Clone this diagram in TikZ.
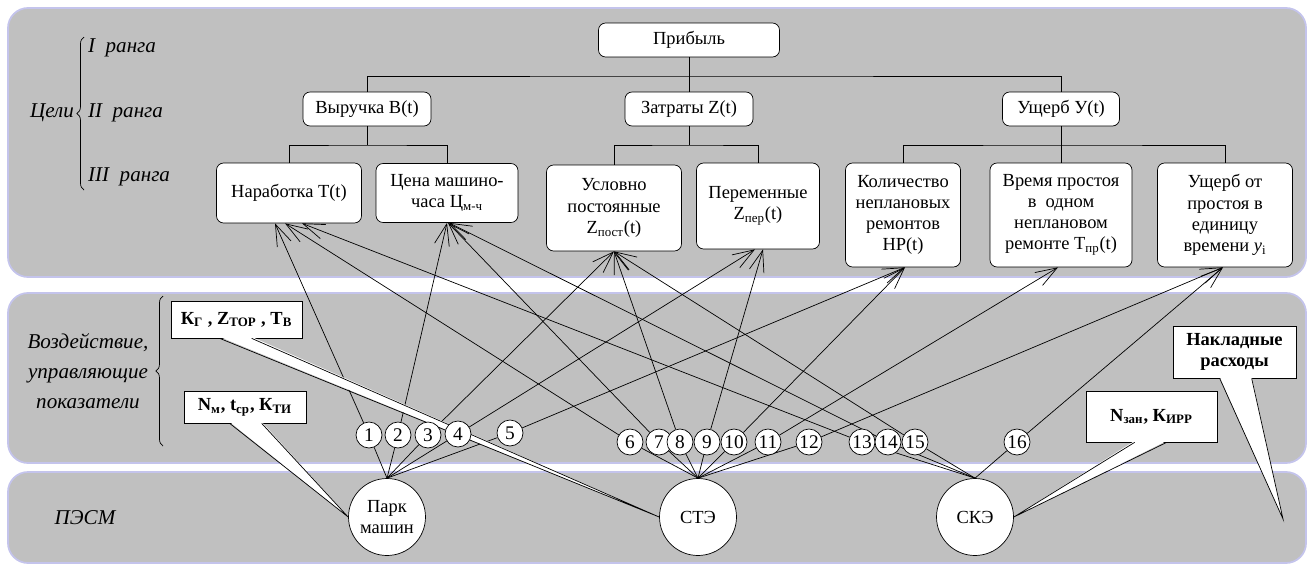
\documentclass[tikz,border=0pt]{standalone}
\usepackage{fontspec}
\setmainfont{Liberation Serif}
\usetikzlibrary{arrows.meta,calc,decorations.pathreplacing}
\definecolor{panelgrey}{RGB}{192,192,192}
\definecolor{panelrim}{RGB}{196,196,236}
\pgfdeclarelayer{back}
\pgfdeclarelayer{mid}
\pgfsetlayers{back,mid,main}
\newcommand\calltail[3]{%
  \fill[white] ($(#1.south west)+(#2,-1.5)$) -- (#3) -- ($(#1.south west)+(#2+32,-1.5)$) -- cycle;
  \draw ($(#1.south west)+(#2,0)$) -- (#3) -- ($(#1.south west)+(#2+32,0)$);}

\begin{document}
\begin{tikzpicture}
    [x=0.02cm, y=-0.02cm, line width=0.55pt, >={Straight Barb[length=4.3mm,width=3mm]},
      panel/.style={draw=panelrim, line width=1pt, fill=panelgrey, rounded corners=0.4cm},
      goal/.style={draw, fill=white, rounded corners=4pt, align=center, inner sep=1pt,
        font=\fontsize{10.5}{12}\selectfont},
      rank/.style={inner sep=1pt, align=center, font=\fontsize{12}{17}\selectfont\itshape},
      num/.style={draw, fill=white, circle, inner sep=0pt, minimum size=0.52cm,
        font=\fontsize{11}{12}\selectfont},
      plant/.style={draw, fill=white, circle, inner sep=0pt, minimum size=1.54cm, align=center,
        font=\fontsize{10.5}{12}\selectfont},
      param/.style={draw, fill=white, align=center, inner sep=1pt,
        font=\fontsize{10.5}{12}\selectfont\bfseries},
      curly/.style={decorate, decoration={brace, amplitude=4pt}}]
    \useasboundingbox (0,0) rectangle (1311,565);
    \begin{pgfonlayer}{back}
      \draw[panel] (8,8) rectangle (1306,277);
      \draw[panel] (8,293) rectangle (1306,463);
      \draw[panel] (8,472) rectangle (1306,563);
    \end{pgfonlayer}

    \node[rank, anchor=east] (celi) at (76,113) {Цели};
    \draw[curly] (84,190) -- (84,37);
    \node[rank, anchor=west] (r1) at (86,48) {I\ \ ранга};
    \node[rank, anchor=west] (r2) at (86,113) {II\ \ ранга};
    \node[rank, anchor=west] (r3) at (86,177) {III\ \ ранга};
    \node[rank] (vozd) at (88,371) {Воздействие,\\управляющие\\показатели};
    \draw[curly] (163,446) -- (163,296);
    \node[rank] (pesm) at (85,518) {ПЭСМ};

    \node[goal, minimum width=3.62cm, minimum height=0.68cm] (prib) at (689,40) {Прибыль};
    \node[goal, minimum width=2.56cm, minimum height=0.68cm] (vyr) at (367,109) {Выручка В(t)};
    \node[goal, minimum width=2.56cm, minimum height=0.68cm] (zat) at (689,109) {Затраты Z(t)};
    \node[goal, minimum width=2.34cm, minimum height=0.68cm] (ush) at (1061,109) {Ущерб У(t)};

    \node[goal, minimum width=2.9cm, minimum height=1.2cm] (nar) at (289,193) {Наработка T(t)};
    \node[goal, minimum width=2.84cm, minimum height=1.18cm] (cena) at (447,193)
      {Цена машино-\\часа Ц\textsubscript{м-ч}};
    \node[goal, minimum width=2.7cm, minimum height=1.72cm] (usl) at (614,208)
      {Условно\\постоянные\\Z\textsubscript{пост}(t)};
    \node[goal, minimum width=2.46cm, minimum height=1.72cm] (per) at (758,206)
      {Переменные\\Z\textsubscript{пер}(t)};
    \node[goal, minimum width=2.3cm, minimum height=2.08cm] (kol) at (903,215)
      {Количество\\неплановых\\ремонтов\\НР(t)};
    \node[goal, minimum width=2.84cm, minimum height=2.08cm] (vrem) at (1061,215)
      {Время простоя\\в\ \ одном\\неплановом\\ремонте Т\textsubscript{пр}(t)};
    \node[goal, minimum width=2.7cm, minimum height=2.08cm] (udel) at (1225,215)
      {Ущерб от\\простоя в\\единицу\\времени \textit{y}\textsubscript{i}};

    \coordinate (f1) at (689,76);
    \coordinate (f2) at (367,145);
    \coordinate (f3) at (689,145);
    \coordinate (f4) at (1061,145);
    \draw (prib) -- (zat);
    \draw (vyr) |- (f1) -| (ush);
    \draw (vyr) -- (f2);
    \draw (nar) |- (f2) -| (cena);
    \draw (zat) -- (f3);
    \draw (usl) |- (f3) -| (per);
    \draw (ush) -- (vrem);
    \draw (kol) |- (f4) -| (udel);

    \node[plant] (park) at (387,517) {Парк\\машин};
    \node[plant] (ste) at (698,517) {СТЭ};
    \node[plant] (ske) at (975,517) {СКЭ};
    \coordinate (naklend) at (1283,519);

    \node[param, minimum width=2.62cm, minimum height=0.74cm] (kgbox) at (236.5,319.5)
      {К\textsubscript{Г} , Z\textsubscript{ТОР} , Т\textsubscript{В}};
    \node[param, minimum width=2.44cm, minimum height=0.64cm] (nmbox) at (245,407)
      {N\textsubscript{м}, t\textsubscript{ср}, К\textsubscript{ТИ}};
    \node[param, minimum width=2.62cm, minimum height=1.02cm] (nzbox) at (1151.5,416.5)
      {N\textsubscript{зан}, К\textsubscript{ИРР}};
    \node[param, minimum width=2.46cm, minimum height=1.04cm] (nakl) at (1234.5,352)
      {Накладные\\расходы};
    \calltail{kgbox}{49}{ste.west}
    \calltail{nmbox}{46}{park.west}
    \calltail{nzbox}{49}{ske.east}
    \calltail{nakl}{47}{naklend}

    \foreach \n/\x/\y in {1/369/435, 2/398/435, 3/428/435, 4/458/434, 5/510/433,
        6/630/442, 7/659/442, 8/680/442, 9/707/442, 10/734/442, 11/768/442, 12/809/442,
        13/862/442, 14/888/442, 15/915/442, 16/1017/442}
      \node[num] (c\n) at (\x,\y) {\n};

    \begin{pgfonlayer}{mid}
      \foreach \n/\s/\t/\d in {1/park/nar/-14, 2/park/cena/0, 3/park/usl/0, 4/park/per/-3,
          5/park/kol/2, 6/ste/nar/-4, 7/ste/cena/1, 8/ste/usl/0, 9/ste/per/5, 10/ste/kol/2,
          11/ste/vrem/-3, 12/ste/udel/-2, 13/ske/nar/13, 14/ske/cena/2, 15/ske/usl/0,
          16/ske/udel/-2}
        \draw[->] (\s.north) -- (c\n) -- ($(\t.south)+(\d,0)$);
    \end{pgfonlayer}
\end{tikzpicture}
\end{document}
